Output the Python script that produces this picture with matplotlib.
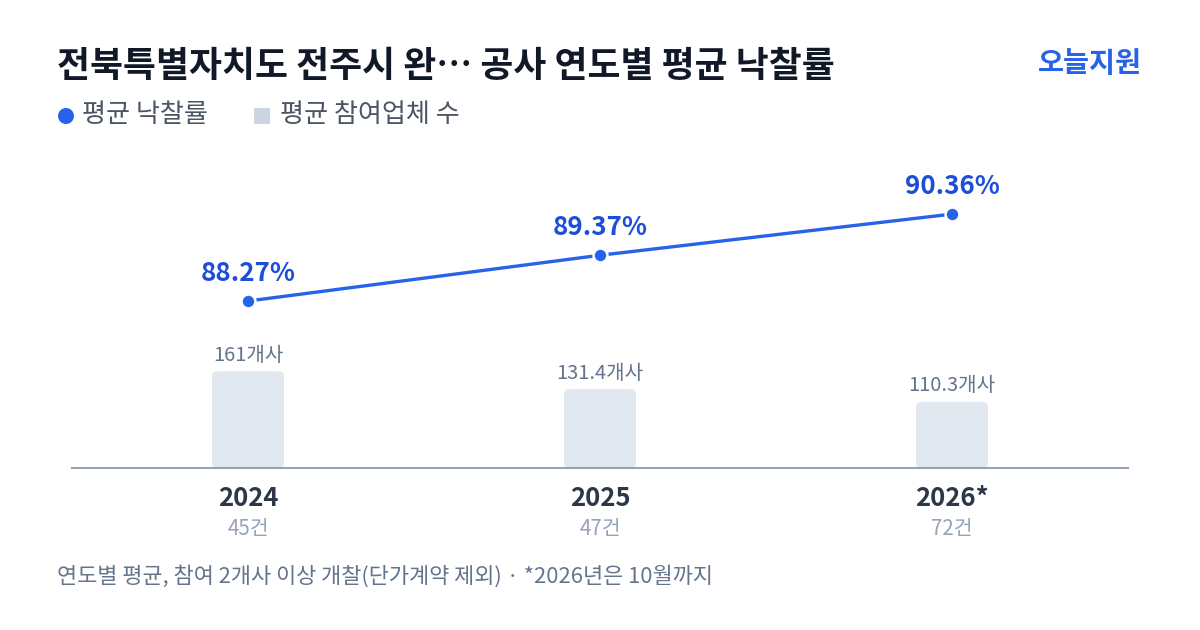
import matplotlib
matplotlib.use("Agg")
import matplotlib.pyplot as plt
from matplotlib.patches import FancyBboxPatch, Ellipse

plt.rcParams['font.family'] = ['Noto Sans CJK KR', 'DejaVu Sans']

years = ["2024", "2025", "2026*"]
rates = [88.27, 89.37, 90.36]
bidders = [161, 131.4, 110.3]
counts = ["45건", "47건", "72건"]
title = "전북특별자치도 전주시 완… 공사 연도별 평균 낙찰률"
brand = "오늘지원"
legend_labels = ["평균 낙찰률", "평균 참여업체 수"]
footnote = "연도별 평균, 참여 2개사 이상 개찰(단가계약 제외) · *2026년은 10월까지"

W, H = 1200, 630
fig = plt.figure(figsize=(W / 100, H / 100), dpi=100)
fig.patch.set_facecolor("white")

def fx(px):
    return px / W

def fy(py):
    return 1 - py / H

BLUE = "#2563eb"
BAR = "#e2e8f0"

ax_left, ax_right, ax_top, ax_bottom = 72, 1128, 160, 468
ax = fig.add_axes([fx(ax_left), fy(ax_bottom), (ax_right - ax_left) / W, (ax_bottom - ax_top) / H])
ax.set_xlim(-0.5, 2.5)
ax.set_ylim(0, 513.3)
ax.axis("off")

xs = list(range(len(years)))
bar_w = 72 / 352
aspect = (513.3 / 308) / (3 / 1056)
for x, v in zip(xs, bidders):
    p = FancyBboxPatch((x - bar_w / 2, 0), bar_w, v,
                       boxstyle="round,pad=0,rounding_size=%f" % (5 / 352),
                       mutation_aspect=aspect, facecolor=BAR, edgecolor="none", zorder=2)
    ax.add_patch(p)
    label = ("%g" % v) + "개사"
    ax.annotate(label, (x, v), xytext=(0, 11.5), textcoords="offset points",
                ha="center", va="center", fontsize=14.5, color="#64748b")

ax.plot([-0.5, 2.5], [0, 0], color="#94a3b8", lw=1.5, zorder=3, clip_on=False)

ax2 = ax.twinx()
ax2.set_ylim(84.256, 91.66)
ax2.axis("off")
ax2.plot(xs, rates, color=BLUE, lw=2.4, marker="o", markersize=10,
         markerfacecolor=BLUE, markeredgecolor="white", markeredgewidth=1.8, zorder=5)
for x, r in zip(xs, rates):
    ax2.annotate("%.2f%%" % r, (x, r), xytext=(0, 20), textcoords="offset points",
                 ha="center", va="center", fontsize=18.7, fontweight="bold", color="#1d4ed8")

# x labels
for x, y, c in zip(xs, years, counts):
    px = 248 + 352 * x
    fig.text(fx(px), fy(499), y, ha="center", va="center", fontsize=18.5,
             fontweight="bold", color="#2d3748")
    fig.text(fx(px), fy(529), c, ha="center", va="center", fontsize=14.8, color="#94a3b8")

# title and brand
fig.text(fx(57), fy(66), title, ha="left", va="center", fontsize=25.8,
         fontweight="bold", color="#111827")
fig.text(fx(1142), fy(64), brand, ha="right", va="center", fontsize=20.4,
         fontweight="bold", color=BLUE)

# legend
fig.patches.append(Ellipse((fx(66), fy(116)), 16 / W, 16 / H,
                           transform=fig.transFigure, facecolor=BLUE, edgecolor="none"))
fig.patches.append(FancyBboxPatch((fx(254), fy(124)), 16 / W, 16 / H,
                                  boxstyle="round,pad=0,rounding_size=0.002",
                                  transform=fig.transFigure, facecolor="#cbd5e1",
                                  edgecolor="none"))
fig.text(fx(82), fy(115), legend_labels[0], ha="left", va="center", fontsize=18.8, color="#4b5563")
fig.text(fx(280), fy(115), legend_labels[1], ha="left", va="center", fontsize=18.8, color="#4b5563")

fig.text(fx(57), fy(576), footnote, ha="left", va="center", fontsize=15.8, color="#64748b")

fig.savefig("out.png", dpi=100, facecolor="white")
